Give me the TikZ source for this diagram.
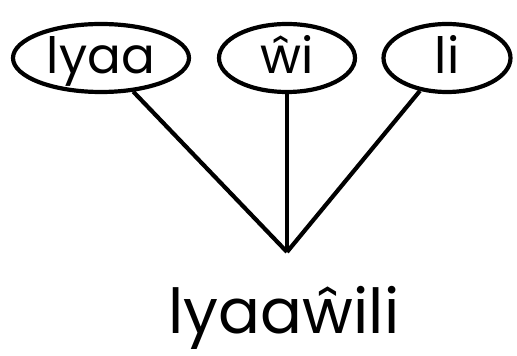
\documentclass[tikz,border=0pt]{standalone}
\usepackage{fontspec}
\setmainfont{Poppins}
\usetikzlibrary{shapes.geometric}
\begin{document}
\begin{tikzpicture}[x=1pt,y=1pt,
  morph/.style={draw,line width=4.2pt,ellipse,inner sep=0pt,text height=32pt,text depth=0pt,
    font=\fontsize{50}{54}\selectfont},
  link/.style={line width=4.2pt}]
\useasboundingbox (0,0) rectangle (517,356);
\node[morph,minimum width=176pt,minimum height=68pt] (a) at (101,298) {lyaa};
\node[morph,minimum width=136pt,minimum height=68pt] (b) at (287,298) {ŵi};
\node[morph,minimum width=127pt,minimum height=68pt] (c) at (447,298) {li};
\coordinate (j) at (287,104);
\draw[link] (a) -- (j);
\draw[link] (b) -- (j);
\draw[link] (c) -- (j);
\node[anchor=base,font=\fontsize{62}{66}\selectfont] (w) at (284,22) {lyaaŵili};
\end{tikzpicture}
\end{document}
